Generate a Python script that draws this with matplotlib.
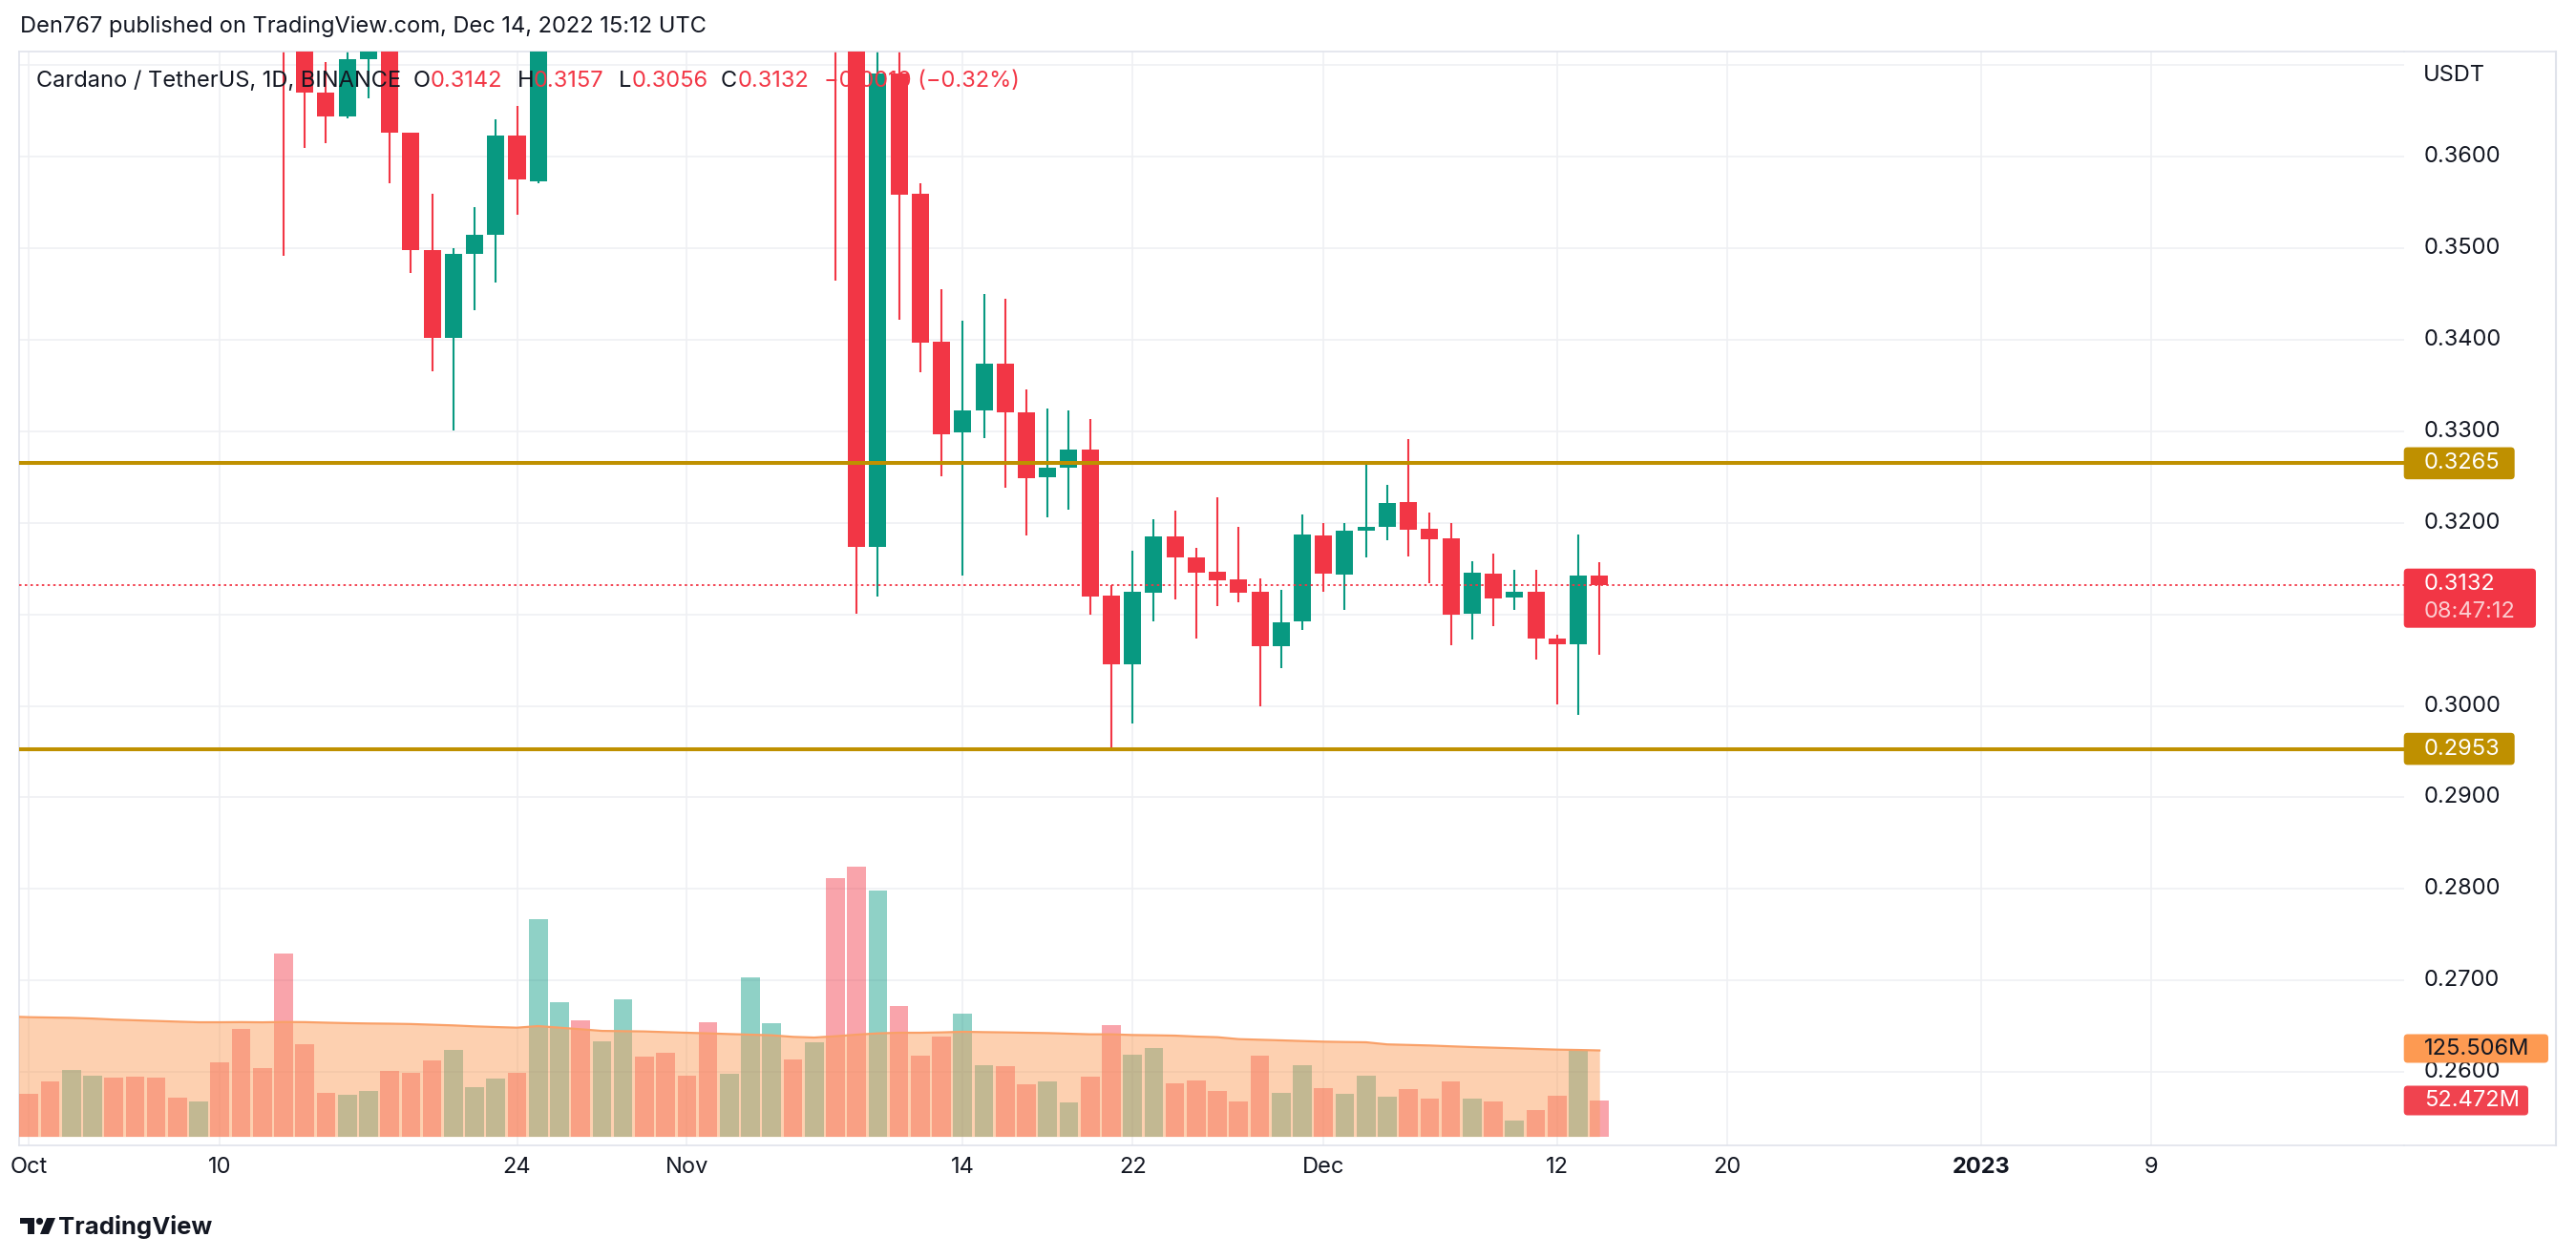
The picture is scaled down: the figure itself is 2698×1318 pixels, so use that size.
import matplotlib
matplotlib.use("Agg")
import matplotlib.pyplot as plt
import matplotlib.dates as mdates
from matplotlib.patches import FancyBboxPatch, Polygon, Circle
from matplotlib.transforms import IdentityTransform
from matplotlib.lines import Line2D
import numpy as np
import pandas as pd

plt.rcParams['font.family'] = ['Inter', 'DejaVu Sans']

# ---------------- data ----------------
dates = pd.date_range("2022-10-01", "2022-12-14", freq="D")

open_oct = [0.4375,0.4365,0.4290,0.4330,0.4430,0.4390,0.4290,0.4230,0.4210,0.4240,0.4010,0.3860,0.3790,0.3745,0.3670,0.3644,
            0.3706,0.3760,0.3626,0.3498,0.3402,0.3494,0.3515,0.3623,0.3573,0.3760,0.3890,0.3800,0.3870,0.4060,0.3980]
high_oct = [0.4420,0.4400,0.4370,0.4470,0.4440,0.4460,0.4320,0.4250,0.4260,0.4260,0.4020,0.3880,0.3800,0.3830,0.3703,0.3760,
            0.3790,0.3800,0.3626,0.3559,0.3500,0.3545,0.3641,0.3655,0.3800,0.3960,0.3950,0.3890,0.4150,0.4110,0.4060]
low_oct = [0.4330,0.4260,0.4230,0.4310,0.4300,0.4270,0.4200,0.4180,0.4190,0.3990,0.3820,0.3750,0.3492,0.3609,0.3615,0.3642,
           0.3664,0.3571,0.3473,0.3365,0.3301,0.3432,0.3462,0.3536,0.3571,0.3740,0.3780,0.3760,0.3860,0.3950,0.3910]
close_oct = [0.4365,0.4290,0.4330,0.4430,0.4390,0.4290,0.4230,0.4210,0.4240,0.4010,0.3860,0.3790,0.3745,0.3670,0.3644,0.3706,
             0.3760,0.3626,0.3498,0.3402,0.3494,0.3515,0.3623,0.3575,0.3760,0.3890,0.3800,0.3870,0.4060,0.3980,0.3960]

open_nov = [0.3960,0.3930,0.3830,0.3870,0.4180,0.4220,0.4070,0.4080,0.3740,0.3174,0.3691,0.3559,0.3398,0.3299,0.3323,
            0.3374,0.3321,0.3250,0.3260,0.3280,0.3120,0.3045,0.3124,0.3185,0.3162,0.3147,0.3138,0.3125,0.3065,0.3092]
high_nov = [0.4000,0.4000,0.3900,0.4240,0.4300,0.4240,0.4140,0.4110,0.3780,0.3760,0.3750,0.3571,0.3455,0.3421,0.3450,
            0.3445,0.3346,0.3325,0.3323,0.3313,0.3132,0.3169,0.3204,0.3213,0.3173,0.3228,0.3196,0.3139,0.3127,0.3209]
low_nov = [0.3900,0.3780,0.3800,0.3860,0.4120,0.4040,0.3990,0.3465,0.3101,0.3119,0.3422,0.3364,0.3251,0.3142,0.3293,
           0.3238,0.3186,0.3206,0.3214,0.3100,0.2953,0.2981,0.3092,0.3116,0.3073,0.3109,0.3113,0.2999,0.3041,0.3083]
close_nov = [0.3930,0.3830,0.3870,0.4180,0.4220,0.4070,0.4080,0.3740,0.3174,0.3691,0.3558,0.3397,0.3297,0.3323,0.3374,
             0.3321,0.3249,0.3260,0.3280,0.3119,0.3045,0.3125,0.3185,0.3162,0.3145,0.3137,0.3124,0.3065,0.3091,0.3187]

open_dec = [0.3186,0.3143,0.3191,0.3196,0.3223,0.3193,0.3183,0.3101,0.3144,0.3118,0.3125,0.3073,0.3067,0.3142]
high_dec = [0.3200,0.3200,0.3264,0.3241,0.3291,0.3211,0.3200,0.3158,0.3166,0.3149,0.3149,0.3078,0.3187,0.3157]
low_dec = [0.3125,0.3105,0.3162,0.3181,0.3163,0.3134,0.3066,0.3072,0.3087,0.3105,0.3051,0.3002,0.2990,0.3056]
close_dec = [0.3144,0.3191,0.3196,0.3222,0.3192,0.3182,0.3100,0.3145,0.3117,0.3125,0.3073,0.3067,0.3142,0.3132]

# volume in millions
vol_oct = [62.2,80.3,97.0,88.6,85.9,87.3,85.9,56.6,51.1,108.1,156.9,99.8,266.9,134.6,63.6,60.8,66.4,95.6,92.8,110.9,
           126.2,71.9,84.5,92.8,317.0,195.9,169.4,138.8,200.0,116.5,122.1]
vol_nov = [88.6,166.6,91.4,232.1,165.2,112.3,137.4,376.9,393.6,358.8,190.3,117.9,145.7,179.1,104.0,102.6,76.1,80.3,
           49.7,87.3,162.4,119.3,129.0,77.5,81.7,66.4,51.1,117.9,63.6,104.0]
vol_dec = [70.5,62.2,88.6,58.0,69.2,55.2,80.3,55.2,51.1,23.2,38.5,59.4,124.8,52.472]

# volume moving average (millions), from Sep 30
ma_dates = pd.date_range("2022-09-30", "2022-12-14", freq="D")
ma_sep = [175.0]
ma_oct = [174.0,173.5,173.0,172.0,170.5,169.5,168.5,167.5,166.6,166.6,166.8,166.5,167.0,166.8,166.0,165.3,164.8,164.5,
          164.0,163.0,162.0,160.6,159.6,158.7,161.0,158.7,156.4,154.0,153.6,153.2,152.2]
ma_nov = [151.3,150.4,149.4,148.5,147.6,145.3,144.3,146.2,148.5,150.4,151.3,151.3,151.8,152.7,152.2,151.8,151.3,150.8,
          149.9,149.0,149.0,148.0,147.6,147.1,145.7,144.8,142.0,141.1,140.2,139.2]
ma_dec = [138.3,137.8,137.4,134.3,133.5,132.7,131.5,130.4,129.5,128.6,127.6,126.7,126.2,125.506]

levels = [0.3265, 0.2953]
last_price = 0.3132
price_ticks = [0.26, 0.27, 0.28, 0.29, 0.30, 0.32, 0.33, 0.34, 0.35, 0.36]
grid_prices = [0.26, 0.27, 0.28, 0.29, 0.30, 0.31, 0.32, 0.33, 0.34, 0.35, 0.36, 0.37]
date_ticks = ["2022-10-01", "2022-10-10", "2022-10-24", "2022-11-01", "2022-11-14", "2022-11-22",
              "2022-12-01", "2022-12-12", "2022-12-20", "2023-01-01", "2023-01-09"]
date_labels = ["Oct", "10", "24", "Nov", "14", "22", "Dec", "12", "20", "2023", "9"]

o = np.array(open_oct + open_nov + open_dec)
h = np.array(high_oct + high_nov + high_dec)
l = np.array(low_oct + low_nov + low_dec)
c = np.array(close_oct + close_nov + close_dec)
vol = np.array(vol_oct + vol_nov + vol_dec) * 1e6
ma = np.array(ma_sep + ma_oct + ma_nov + ma_dec) * 1e6

# ---------------- styling ----------------
W, H = 2698, 1318
GREEN = '#089981'
RED = '#f23645'
GOLD = '#bf9000'
TXT = '#131722'
GRID = '#eff0f3'
BORDER = '#e0e3eb'
FS = 17

def fx(xp):
    return xp / W

def fy(yp):
    return 1 - yp / H

fig = plt.figure(figsize=(W / 100, H / 100), dpi=100)
fig.patch.set_facecolor('white')

L_PX, R_PX, T_PX, B_PX = 20, 2517.7, 54, 1200
Y32, PPU = 547.7, 9590.0   # pixel of 0.32 and pixels per price unit
ax = fig.add_axes([fx(L_PX), fy(B_PX), (R_PX - L_PX) / W, (B_PX - T_PX) / H])

x = mdates.date2num(dates)
xm = mdates.date2num(ma_dates)
x0 = x[0]
ax.set_xlim(x0 - 0.46, x0 + 111.9)
ax.set_ylim(0.32 - (B_PX - Y32) / PPU, 0.32 + (Y32 - T_PX) / PPU)

# grid
for gp in grid_prices:
    ax.axhline(gp, color=GRID, lw=1.2, zorder=0)
xt = mdates.date2num(pd.to_datetime(date_ticks))
for xx in xt:
    ax.axvline(xx, color=GRID, lw=1.2, zorder=0)

up = c >= o
col = np.where(up, GREEN, RED)

# candles
ax.vlines(x, l, h, colors=col, lw=1.5, zorder=2)
body_bottom = np.minimum(o, c)
body_h = np.maximum(np.abs(c - o), 0.00012)
ax.bar(x, body_h, bottom=body_bottom, width=0.81, color=col, lw=0, zorder=3)

# levels
for lv in levels:
    ax.axhline(lv, color=GOLD, lw=2.9, zorder=4)
ax.axhline(last_price, color=RED, lw=1.3, linestyle=(0, (1.4, 1.9)), zorder=5)

ax.set_xticks([])
ax.set_yticks([])
for s in ['left', 'top', 'bottom']:
    ax.spines[s].set_color(BORDER)
    ax.spines[s].set_linewidth(1.2)
ax.spines['right'].set_visible(False)

# volume
ax2 = ax.twinx()
ax2.set_ylim(-12.95e6, 1582.3e6)
ax2.bar(x, vol, width=0.885, color=col, alpha=0.45, lw=0, zorder=1)
ax2.fill_between(xm, ma, 0, color='#fb9d5a', alpha=0.48, lw=0, zorder=2)
ax2.plot(xm, ma, color='#f9a068', lw=1.6, zorder=3)
ax2.set_yticks([])
for s in ax2.spines.values():
    s.set_visible(False)
ax2.set_xlim(ax.get_xlim())

# price labels
xa = (2539 - L_PX) / (R_PX - L_PX)
for pt in price_ticks:
    ax.text(xa, pt, f"{pt:.4f}", transform=ax.get_yaxis_transform(), ha='left', va='center',
            fontsize=FS, color=TXT, clip_on=False)

# date labels
ya = -(1223 - B_PX) / (B_PX - T_PX)
for xx, lab in zip(xt, date_labels):
    ax.text(xx, ya, lab, transform=ax.get_xaxis_transform(), ha='center', va='center',
            fontsize=FS, color=TXT, clip_on=False,
            fontweight='bold' if lab == '2023' else 'normal')

# axis borders outside plot
fig.add_artist(Line2D([fx(R_PX), fx(2677)], [fy(T_PX), fy(T_PX)], color=BORDER, lw=1.2))
fig.add_artist(Line2D([fx(R_PX), fx(2677)], [fy(B_PX), fy(B_PX)], color=BORDER, lw=1.2))
fig.add_artist(Line2D([fx(2677), fx(2677)], [fy(T_PX), fy(B_PX)], color=BORDER, lw=1.5))

# axis label boxes
def box(x0p, y0p, x1p, y1p, color):
    p = FancyBboxPatch((x0p, H - y1p), x1p - x0p, y1p - y0p,
                       boxstyle='round,pad=0,rounding_size=4', transform=IdentityTransform(),
                       facecolor=color, edgecolor='none')
    fig.add_artist(p)

def ptext(xp, yp, s, **kw):
    fig.text(fx(xp), fy(yp), s, va='center', ha='left', **kw)

for lv in levels:
    yc = Y32 + (0.32 - lv) * PPU
    box(2517.7, yc - 16.8, 2633.7, yc + 16.8, GOLD)
    ptext(2539, yc, f"{lv:.4f}", fontsize=FS, color='white')

box(2517.7, 595.7, 2656, 657.7, RED)
ptext(2539, 612.5, f"{last_price:.4f}", fontsize=FS, color='white')
ptext(2539, 640.5, "08:47:12", fontsize=FS, color='white', alpha=0.75)

box(2517.7, 1083.5, 2669, 1113.5, '#fd9a52')
ptext(2539, 1099, "125.506M", fontsize=FS, color=TXT)
box(2517.7, 1137.5, 2648, 1168.5, '#f0434f')
ptext(2539, 1153, "52.472M", fontsize=FS, color='white')

ptext(2538, 79, "USDT", fontsize=FS, color=TXT)

# header
ptext(21, 28, "Den767 published on TradingView.com, Dec 14, 2022 15:12 UTC", fontsize=FS, color=TXT)

# legend line
ptext(38, 85, "Cardano / TetherUS, 1D, BINANCE", fontsize=FS, color=TXT)
ptext(433, 85, "O", fontsize=FS, color=TXT)
ptext(451, 85, "0.3142", fontsize=FS, color=RED)
ptext(542, 85, "H", fontsize=FS, color=TXT)
ptext(559, 85, "0.3157", fontsize=FS, color=RED)
ptext(648, 85, "L", fontsize=FS, color=TXT)
ptext(662, 85, "0.3056", fontsize=FS, color=RED)
ptext(755, 85, "C", fontsize=FS, color=TXT)
ptext(773, 85, "0.3132", fontsize=FS, color=RED)
ptext(863, 85, "\u22120.0010 (\u22120.32%)", fontsize=FS, color=RED)

# TradingView logo
def disp(xp, yp):
    return (xp, H - yp)

logo = '#131722'
fig.add_artist(Polygon([disp(21, 1276), disp(36, 1276), disp(36, 1293), disp(29, 1293), disp(29, 1282), disp(21, 1282)],
                       closed=True, transform=IdentityTransform(), facecolor=logo, edgecolor='none'))
fig.add_artist(Circle(disp(41.5, 1279.5), 3.6, transform=IdentityTransform(), facecolor=logo, edgecolor='none'))
fig.add_artist(Polygon([disp(49, 1276), disp(58, 1276), disp(51, 1293), disp(42, 1293)],
                       closed=True, transform=IdentityTransform(), facecolor=logo, edgecolor='none'))
ptext(61, 1285, "TradingView", fontsize=18.5, color=TXT, fontweight='bold')

fig.savefig("out.png", dpi=100, facecolor='white')
